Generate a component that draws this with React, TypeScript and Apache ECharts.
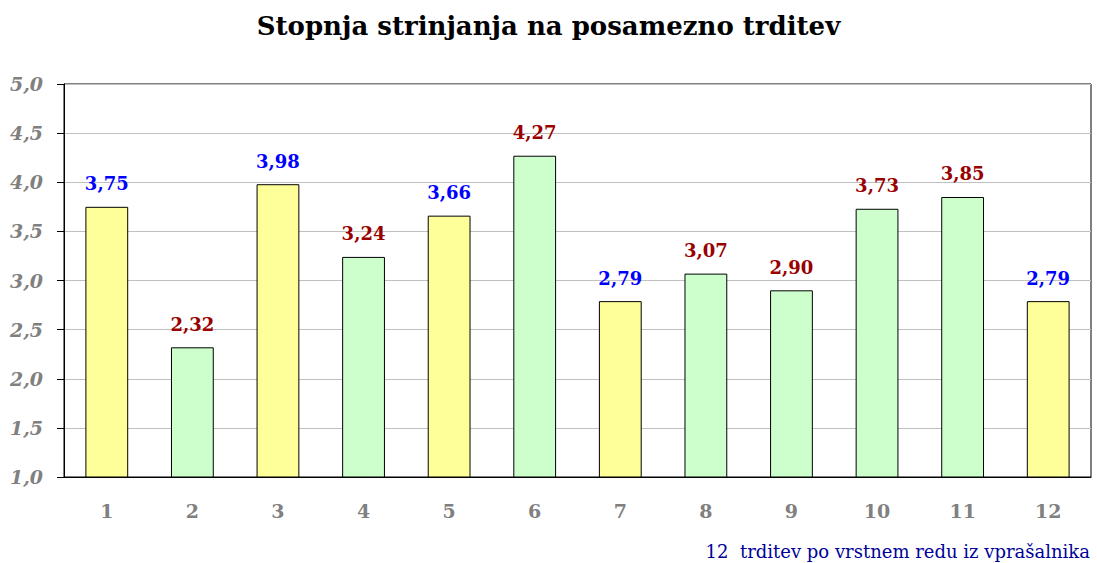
import React, { useEffect, useRef } from "react";
import * as echarts from "echarts";

const categories = ["1", "2", "3", "4", "5", "6", "7", "8", "9", "10", "11", "12"];
const values = [3.75, 2.32, 3.98, 3.24, 3.66, 4.27, 2.79, 3.07, 2.9, 3.73, 3.85, 2.79];
const groups = ["a", "b", "a", "b", "a", "b", "a", "b", "b", "b", "b", "a"];
const titleText = "Stopnja strinjanja na posamezno trditev";
const footText = "12  trditev po vrstnem redu iz vprašalnika";

const fillColors: Record<string, string> = { a: "#FFFF99", b: "#CCFFCC" };
const labelColors: Record<string, string> = { a: "#0000FF", b: "#990000" };
const serif = "'DejaVu Serif', 'Liberation Serif', serif";

export default function App() {
  const ref = useRef<HTMLDivElement>(null);
  useEffect(() => {
    if (!ref.current) return;
    const chart = echarts.init(ref.current, null, { renderer: "svg" });
    chart.setOption({
      animation: false,
      backgroundColor: "#ffffff",
      title: {
        text: titleText,
        left: "center",
        top: 8,
        textStyle: { fontFamily: serif, fontWeight: "bold", fontSize: 26, color: "#000" },
      },
      graphic: [
        {
          type: "text",
          right: 7,
          top: 542,
          style: { text: footText, fontFamily: serif, fontSize: 18, fill: "#000099" },
        },
      ],
      grid: {
        left: 64,
        right: 6,
        top: 84,
        bottom: 86,
        show: true,
        borderColor: "#000",
        borderWidth: 1,
      },
      xAxis: {
        type: "category",
        data: categories,
        axisLine: { lineStyle: { color: "#000", width: 1 } },
        axisTick: { show: false },
        axisLabel: {
          margin: 24,
          fontFamily: serif,
          fontWeight: "bold",
          fontSize: 19,
          color: "#808080",
        },
      },
      yAxis: {
        type: "value",
        min: 1,
        max: 5,
        interval: 0.5,
        axisLine: { show: true, lineStyle: { color: "#000", width: 1 } },
        axisTick: { show: true, length: 7, lineStyle: { color: "#000" } },
        splitLine: { lineStyle: { color: "#c0c0c0", width: 1 } },
        axisLabel: {
          margin: 21,
          fontFamily: serif,
          fontWeight: "bold",
          fontStyle: "italic",
          fontSize: 19,
          color: "#808080",
          formatter: (v: number) => v.toFixed(1).replace(".", ","),
        },
      },
      series: [
        {
          type: "bar",
          barWidth: "50%",
          data: values.map((v, i) => ({
            value: v,
            itemStyle: { color: fillColors[groups[i]], borderColor: "#000", borderWidth: 1 },
            label: { color: labelColors[groups[i]] },
          })),
          label: {
            show: true,
            position: "top",
            distance: 14,
            fontFamily: serif,
            fontWeight: "bold",
            fontSize: 18,
            formatter: (p: any) => Number(p.value).toFixed(2).replace(".", ","),
          },
        },
      ],
    });
    return () => chart.dispose();
  }, []);
  return (
    <div
      ref={ref}
      style={{ position: "fixed", left: 0, top: 0, width: 1097, height: 563 }}
    />
  );
}
